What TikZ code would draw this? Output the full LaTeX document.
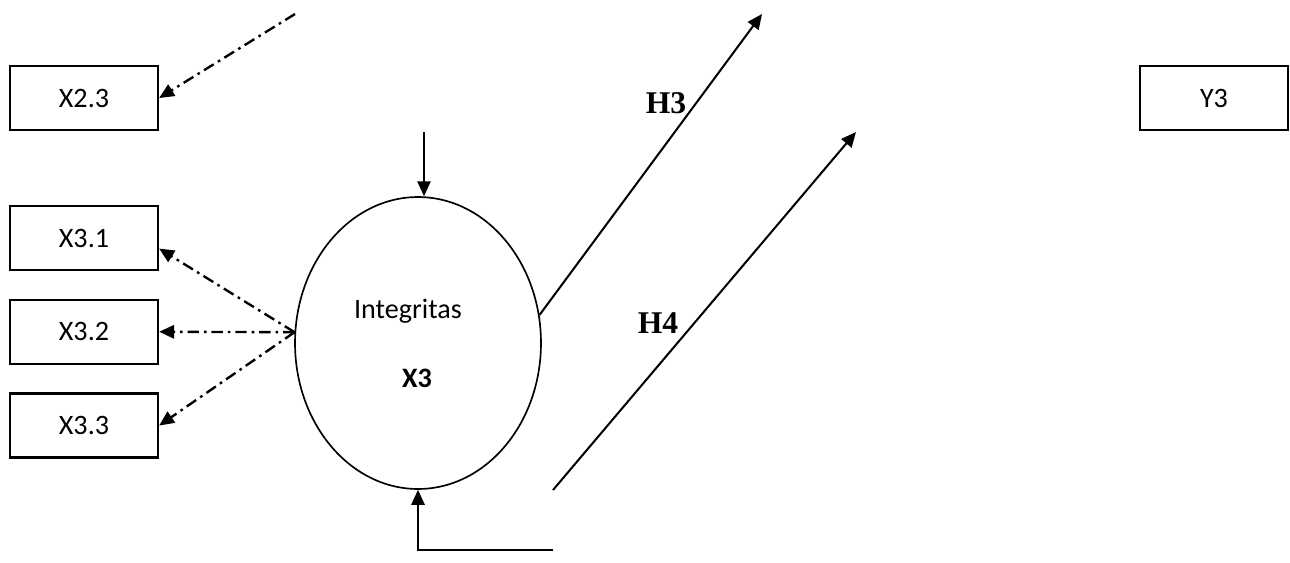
\documentclass[tikz,border=0pt]{standalone}
\usepackage{fontspec}
\setsansfont{Carlito}
\newfontfamily\hfont{Liberation Serif}
\usetikzlibrary{shapes.geometric, arrows.meta, positioning}

\begin{document}
\begin{tikzpicture}[
    x=0.02cm, y=-0.02cm,
    box/.style={rectangle, draw, line width=1.3pt, minimum width=2.96cm, minimum height=1.28cm, font=\sffamily\fontsize{16}{19}\selectfont},
    latent/.style={ellipse, draw, line width=0.95pt, minimum width=4.92cm, minimum height=5.84cm, inner sep=0pt},
    arrow/.style={-{Triangle[length=8.5pt, width=7.5pt]}, line width=1.15pt},
    loading/.style={arrow, line width=1.35pt, dash pattern=on 6.5pt off 2.8pt on 1.5pt off 2.8pt},
    txt/.style={font=\sffamily\fontsize{16}{19}\selectfont},
    hlabel/.style={font=\hfont\bfseries\fontsize{18}{21}\selectfont}
]
\useasboundingbox (0,0) rectangle (1290,562);

% Latent variable
\node[latent] (integ) at (418,343) {};
\node[txt] (integtxt) at (408,311) {Integritas};
\node[txt, font=\sffamily\bfseries\fontsize{16}{19}\selectfont] (x3) at (417,378) {X3};

% Indicators
\node[box] (x23) at (84,98) {X2.3};
\node[box] (x31) at (84,238) {X3.1};
\node[box, below=0.55cm of x31] (x32) {X3.2};
\node[box, below=0.55cm of x32] (x33) {X3.3};
\node[box] (y3) at (1214,98) {Y3};

% Free ends
\coordinate (x23in) at (295,14);
\coordinate (topin) at (424,132);
\coordinate (botin) at (553,550);
\coordinate (h3end) at (762,14);
\coordinate (h4start) at (553,490);
\coordinate (h4end) at (856,132);

% Loadings
\draw[loading] (x23in) -- (x23.east);
\draw[loading] (integ.175) -- (x31.-8);
\draw[loading] (integ.175) -- (x32.east);
\draw[loading] (integ.175) -- (x33.east);

% Errors
\draw[arrow] (topin) -- (topin |- integ.north);
\draw[arrow] (botin) -| (integ.south);

% Hypotheses
\draw[arrow] (integ.13) -- (h3end);
\draw[arrow] (h4start) -- (h4end);
\node[hlabel] (h3) at (666,103) {H3};
\node[hlabel] (h4) at (658,323) {H4};

\end{tikzpicture}
\end{document}
